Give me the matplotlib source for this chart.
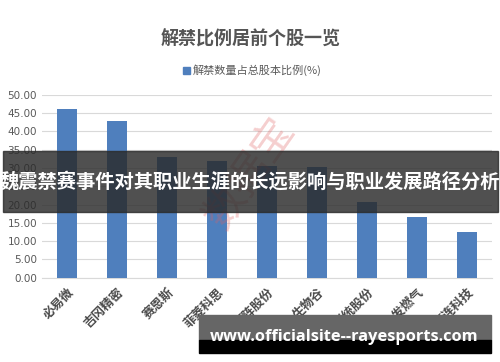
import matplotlib
matplotlib.use("Agg")
import matplotlib.pyplot as plt
import matplotlib.patches as mpatches

plt.rcParams['font.family'] = ['Noto Sans CJK SC', 'DejaVu Sans']

stocks = ['必易微', '吉冈精密', '赛恩斯', '菲菱科思', '矩阵股份', '生物谷', '华统股份', '水发燃气', '壹连科技']
ratios = [46.1, 42.8, 32.9, 31.9, 30.6, 30.3, 20.6, 16.5, 12.5]
yticks = [0, 5, 10, 15, 20, 25, 30, 35, 40, 45, 50]

title = '解禁比例居前个股一览'
legend_label = '解禁数量占总股本比例(%)'
banner_text = '魏震禁赛事件对其职业生涯的长远影响与职业发展路径分析'
site_text = 'www.officialsite--rayesports.com'

fig = plt.figure(figsize=(5, 3.62), dpi=100)
ax = fig.add_axes([0.084, 0.233, 0.9, 0.505])

xs = range(len(stocks))
ax.bar(xs, ratios, width=0.4, color='#4f7fbd', zorder=3, label=legend_label)

ax.set_xlim(-0.5, len(stocks) - 0.5)
ax.set_ylim(0, 50)
ax.set_yticks(yticks)
ax.set_yticklabels(['%.2f' % v for v in yticks], fontsize=7.5, color='#595959',
                   family=['DejaVu Sans'])
ax.set_xticks(list(xs))
ax.set_xticklabels(stocks, rotation=45, ha='right', rotation_mode='anchor',
                   fontsize=9, color='#4a4a4a', fontweight='bold')
ax.tick_params(axis='both', length=0)
ax.tick_params(axis='x', pad=6)
ax.grid(axis='y', color='#d9d9d9', linewidth=0.8, zorder=0)
for s in ['top', 'right', 'left']:
    ax.spines[s].set_visible(False)
ax.spines['bottom'].set_color('#d9d9d9')

fig.text(0.502, 0.892, title, ha='center', va='center', fontsize=13,
         fontweight='bold', color='#555555')
handle = mpatches.Patch(color='#4f7fbd', label=legend_label)
fig.legend(handles=[handle], loc='center', bbox_to_anchor=(0.505, 0.805),
           frameon=False, fontsize=8, handlelength=0.6, handleheight=0.6,
           handletextpad=0.3, labelcolor='#595959')

# watermark
fig.text(0.5, 0.52, '数据宝', ha='center', va='center', fontsize=30,
         rotation=55, color='#e06060', alpha=0.3)

# dark overlay banner
fig.patches.append(mpatches.Rectangle((0.006, 0.415), 0.99, 0.168,
                                      transform=fig.transFigure,
                                      color='#2a2a2a', alpha=0.82, zorder=5))
fig.text(0.5, 0.498, banner_text, ha='center', va='center', fontsize=13.9,
         fontweight='bold', color='white', zorder=6)

# site banner
fig.patches.append(mpatches.Rectangle((0.398, 0.061), 0.584, 0.07,
                                      transform=fig.transFigure,
                                      color='#666666', zorder=5))
fig.patches.append(mpatches.Rectangle((0.398, 0.026), 0.584, 0.035,
                                      transform=fig.transFigure,
                                      color='black', zorder=5))
fig.text(0.688, 0.07, site_text, ha='center', va='center', fontsize=11.8,
         fontweight='bold', color='white', zorder=6, family=['Open Sans', 'DejaVu Sans'])

fig.savefig('out.png', dpi=100)
